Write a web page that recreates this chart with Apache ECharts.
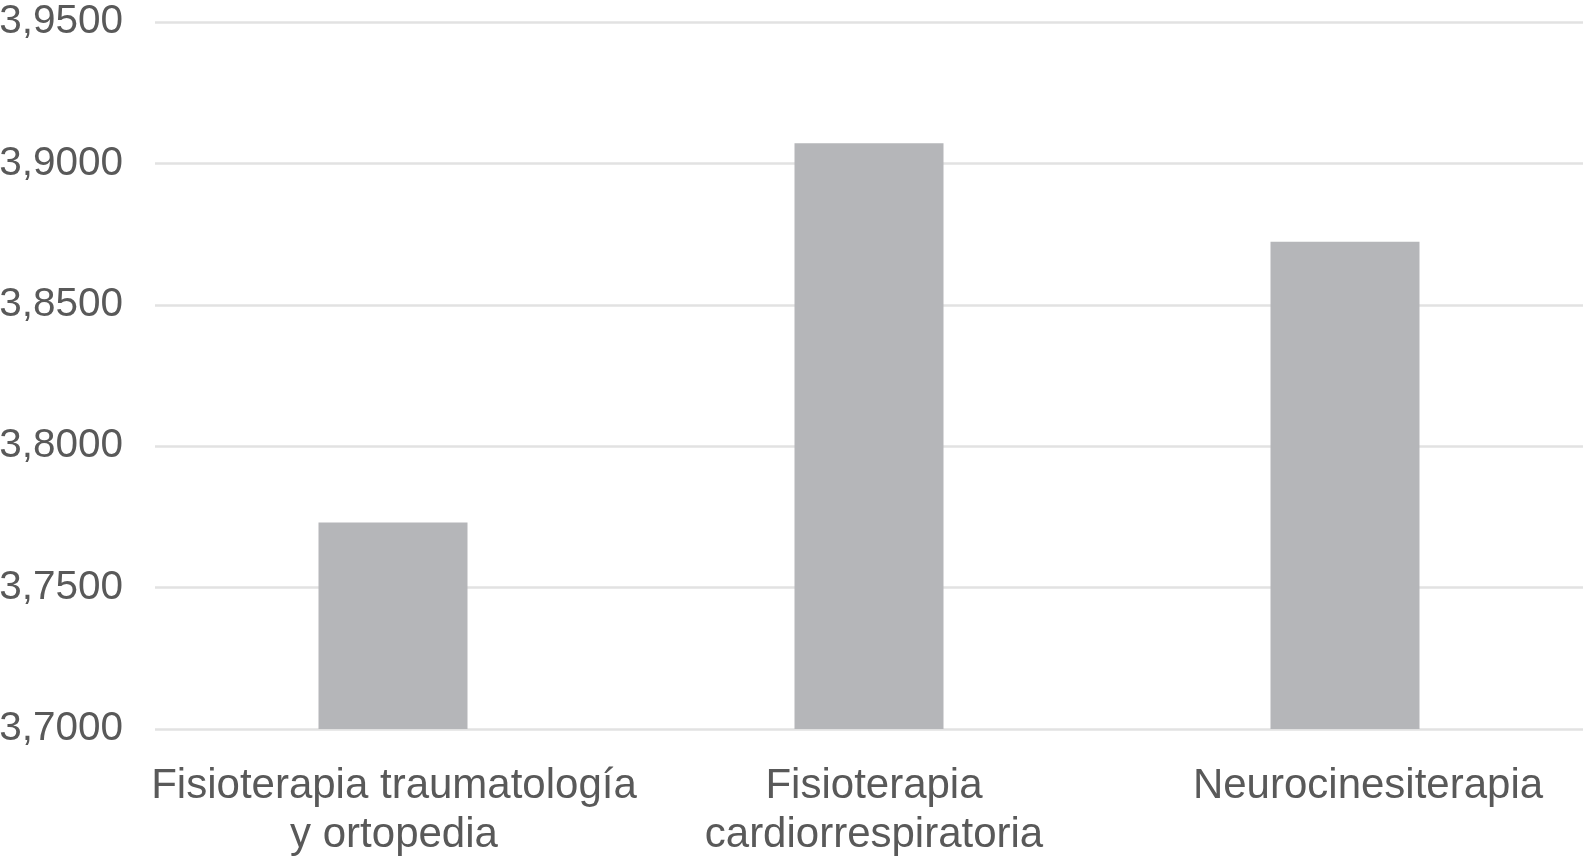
<!DOCTYPE html>
<html>
<head>
<meta charset="utf-8">
<script src="https://cdn.jsdelivr.net/npm/echarts@6/dist/echarts.min.js"></script>
<style>
  html, body { margin: 0; padding: 0; background: #ffffff; }
  #chart { width: 1583px; height: 856px; }
</style>
</head>
<body>
<div id="chart"></div>
<script>
const categories = [
  "Fisioterapia traumatología\ny ortopedia",
  "Fisioterapia\ncardiorrespiratoria",
  "Neurocinesiterapia"
];
const values = [3.7730, 3.9071, 3.8723];
const yMin = 3.70;
const yMax = 3.95;
const yInterval = 0.05;

const labelShift = [2, 10, 46];

const chart = echarts.init(document.getElementById('chart'), null, { renderer: 'canvas' });
chart.setOption({
  animation: false,
  backgroundColor: '#ffffff',
  grid: { left: 155, right: 0, top: 22, bottom: 127, containLabel: false, outerBoundsMode: 'none' },
  xAxis: {
    type: 'category',
    data: categories.map((c, i) => ({ value: c, textStyle: { padding: [0, 0, 0, labelShift[i]] } })),
    axisLine: { show: false },
    axisTick: { show: false },
    axisLabel: {
      color: '#595959',
      fontFamily: 'Liberation Sans, Arial, sans-serif',
      fontSize: 42,
      lineHeight: 49,
      margin: 33,
      interval: 0
    }
  },
  yAxis: {
    type: 'value',
    min: yMin,
    max: yMax,
    interval: yInterval,
    axisLine: { show: false },
    axisTick: { show: false },
    splitLine: { show: true, lineStyle: { color: '#e2e2e2', width: 2.5 } },
    axisLabel: {
      color: '#595959',
      fontFamily: 'Liberation Sans, Arial, sans-serif',
      fontSize: 40.5,
      margin: 32,
      padding: [4, 0, 0, 0],
      formatter: v => v.toFixed(4).replace('.', ',')
    }
  },
  series: [{
    type: 'bar',
    data: values,
    barWidth: 149,
    itemStyle: { color: '#b5b6b9' }
  }]
});
</script>
</body>
</html>
